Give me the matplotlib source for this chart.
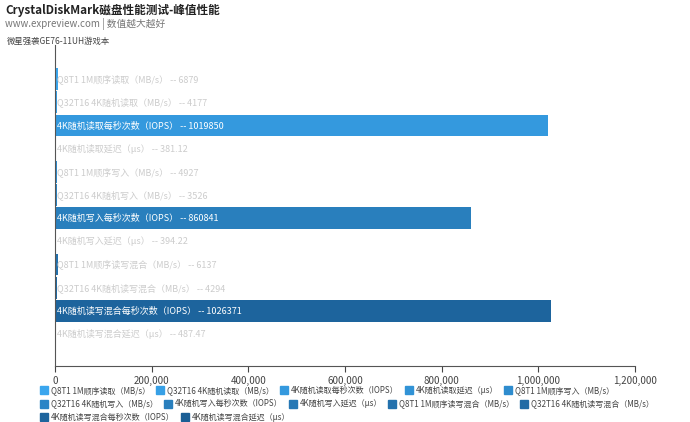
import numpy as np
import matplotlib.pyplot as plt
from matplotlib.colors import LinearSegmentedColormap
from matplotlib.patches import Rectangle
from matplotlib.ticker import FuncFormatter

plt.rcParams['font.family'] = ['Noto Sans CJK SC', 'DejaVu Sans']

labels = [
    "Q8T1 1M顺序读取（MB/s）",
    "Q32T16 4K随机读取（MB/s）",
    "4K随机读取每秒次数（IOPS）",
    "4K随机读取延迟（μs）",
    "Q8T1 1M顺序写入（MB/s）",
    "Q32T16 4K随机写入（MB/s）",
    "4K随机写入每秒次数（IOPS）",
    "4K随机写入延迟（μs）",
    "Q8T1 1M顺序读写混合（MB/s）",
    "Q32T16 4K随机读写混合（MB/s）",
    "4K随机读写混合每秒次数（IOPS）",
    "4K随机读写混合延迟（μs）",
]
values = [6879, 4177, 1019850, 381.12, 4927, 3526, 860841, 394.22, 6137, 4294, 1026371, 487.47]
value_text = ["6879", "4177", "1019850", "381.12", "4927", "3526", "860841", "394.22",
              "6137", "4294", "1026371", "487.47"]

cmap = LinearSegmentedColormap.from_list("blues", ["#3aa6ee", "#1a5e95"])
colors = [cmap(i / (len(labels) - 1)) for i in range(len(labels))]

W, H = 690, 422
fig = plt.figure(figsize=(W / 100, H / 100), dpi=100)
ax = fig.add_axes([55 / W, (H - 366) / H, 580 / W, 321 / H])

y = np.arange(len(labels))
ax.barh(y, values, height=0.94, color=colors)
xmax = 1200000
ax.set_xlim(0, xmax)
ax.set_ylim(12.38, -1.47)

for i, (lab, v, vt) in enumerate(zip(labels, values, value_text)):
    big = v / xmax > 0.3
    ax.text(4000, i + 0.13, f"{lab} -- {vt}", va='baseline', ha='left',
            fontsize=6.5, color='white' if big else '#cccccc')

ax.set_xticks(np.arange(0, xmax + 1, 200000))
ax.xaxis.set_major_formatter(FuncFormatter(lambda x, p: f"{int(x):,}"))
ax.tick_params(axis='x', labelsize=7, colors='#444444', length=4, width=0.8)
ax.set_yticks([])
for s in ['top', 'right']:
    ax.spines[s].set_visible(False)
for s in ['left', 'bottom']:
    ax.spines[s].set_color('#555555')
    ax.spines[s].set_linewidth(0.8)

fig.text(5 / W, 1 - 10 / H, "CrystalDiskMark磁盘性能测试-峰值性能", fontsize=8.4,
         fontweight='bold', color='#222222', va='center')
fig.text(5 / W, 1 - 24 / H, "www.expreview.com | 数值越大越好", fontsize=7,
         color='#777777', va='center')
fig.text(7 / W, 1 - 41 / H, "微星强袭GE76-11UH游戏本", fontsize=6,
         color='#444444', va='center')

# flow-style legend at the bottom
fig.canvas.draw()
renderer = fig.canvas.get_renderer()
x0, xpos, ypos = 40, 40, 390
for lab, c in zip(labels, colors):
    t = fig.text(0, 0, lab, fontsize=5.8, color='#444444', va='baseline')
    w = t.get_window_extent(renderer).width
    if xpos + 11 + w > 686:
        xpos = x0
        ypos += 13.5
    fig.patches.append(Rectangle((xpos / W, 1 - (ypos + 4) / H), 8 / W, 8 / H,
                                 transform=fig.transFigure, color=c))
    t.set_position(((xpos + 11) / W, 1 - (ypos + 2.8) / H))
    xpos += 11 + w + 6

fig.savefig("out.png", dpi=100)
